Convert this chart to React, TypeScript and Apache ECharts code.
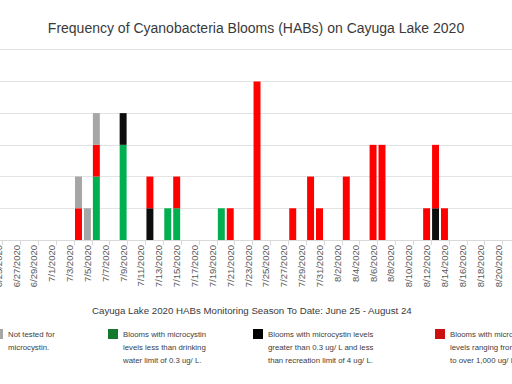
import React, { useEffect, useRef } from "react";
import * as echarts from "echarts";

// Daily categories June 25 - August 24, 2020
const monthSpans: [number, number, number][] = [
  [6, 25, 30],
  [7, 1, 31],
  [8, 1, 24],
];
const categories: string[] = [];
monthSpans.forEach(([m, a, b]) => {
  for (let d = a; d <= b; d++) categories.push(`${m}/${d}/2020`);
});

const greenDays = ["7/6/2020", "7/9/2020", "7/14/2020", "7/15/2020", "7/20/2020"];
const greenCounts = [2, 3, 1, 1, 1];

const blackDays = ["7/9/2020", "7/12/2020", "8/13/2020"];
const blackCounts = [1, 1, 1];

const redDays = [
  "7/4/2020", "7/6/2020", "7/12/2020", "7/15/2020", "7/21/2020", "7/24/2020",
  "7/28/2020", "7/30/2020", "7/31/2020", "8/3/2020", "8/6/2020", "8/7/2020",
  "8/12/2020", "8/13/2020", "8/14/2020",
];
const redCounts = [1, 1, 1, 1, 1, 5, 1, 2, 1, 2, 3, 3, 1, 2, 1];

const greyDays = ["7/4/2020", "7/5/2020", "7/6/2020"];
const greyCounts = [1, 1, 1];

const legendTexts = [
  "Not tested for\nmicrocystin.",
  "Blooms with microcystin\nlevels less than drinking\nwater limit of 0.3 ug/ L.",
  "Blooms with microcystin levels\ngreater than 0.3 ug/ L and less\nthan recreation limit of 4 ug/ L.",
  "Blooms with microcystin\nlevels ranging from 4 ug/ L\nto over 1,000 ug/ L.",
];

function build(days: string[], counts: number[]) {
  return categories.map((c) => {
    const i = days.indexOf(c);
    return i >= 0 ? counts[i] : 0;
  });
}

const FONT = "Liberation Sans, Arial, sans-serif";
const OFF = 40; // chart canvas extends 40px beyond each side of the visible frame

export default function App() {
  const ref = useRef<HTMLDivElement>(null);
  useEffect(() => {
    if (!ref.current) return;
    const chart = echarts.init(ref.current, undefined, { renderer: "svg" });
    const legendX = [-7, 108, 253, 435];
    const legendColors = ["#a6a6a6", "#13792c", "#000000", "#cc0f0f"];
    const graphics: any[] = [];
    legendTexts.forEach((t, i) => {
      graphics.push({
        type: "rect",
        shape: { x: legendX[i] + OFF, y: 329, width: 10, height: 10 },
        style: { fill: legendColors[i] },
      });
      graphics.push({
        type: "text",
        x: legendX[i] + OFF + 15,
        y: 327.5,
        style: {
          text: t,
          fontSize: 7.8,
          fontFamily: FONT,
          fill: "#404040",
          lineHeight: 13,
          verticalAlign: "top",
        },
      });
    });
    const mk = (name: string, data: number[], color: string) => ({
      name,
      type: "bar",
      stack: "blooms",
      data,
      barCategoryGap: "22%",
      itemStyle: { color },
      emphasis: { disabled: true },
    });
    chart.setOption({
      animation: false,
      backgroundColor: "#ffffff",
      title: [
        {
          text: "Frequency of Cyanobacteria Blooms (HABs) on Cayuga Lake 2020",
          left: "center",
          top: 16,
          textStyle: { fontSize: 14, fontWeight: "normal", color: "#3a3a3a", fontFamily: FONT },
        },
        {
          text: "Cayuga Lake 2020 HABs Monitoring Season To Date: June 25 - August 24",
          left: 87 + OFF,
          top: 300,
          textStyle: { fontSize: 9.7, fontWeight: "normal", color: "#3a3a3a", fontFamily: FONT },
        },
      ],
      grid: { left: -6.3 + OFF, width: 544.5, top: 49.7, bottom: 144, containLabel: false },
      xAxis: {
        type: "category",
        data: categories,
        axisLine: { lineStyle: { color: "#d9d9d9" } },
        axisTick: {
          show: true,
          length: 5,
          interval: (i: number) => i % 2 === 1,
          lineStyle: { color: "#d9d9d9" },
        },
        axisLabel: {
          interval: 1,
          rotate: 90,
          margin: 5,
          fontSize: 9.5,
          color: "#595959",
          fontFamily: FONT,
        },
      },
      yAxis: {
        type: "value",
        min: 0,
        max: 6,
        interval: 1,
        axisLabel: { show: false },
        axisLine: { show: false },
        axisTick: { show: false },
        splitLine: { lineStyle: { color: "#e3e3e3" } },
      },
      series: [
        mk("Blooms with microcystin levels less than drinking water limit of 0.3 ug/ L.", build(greenDays, greenCounts), "#00b050"),
        mk("Blooms with microcystin levels greater than 0.3 ug/ L and less than recreation limit of 4 ug/ L.", build(blackDays, blackCounts), "#0d0d0d"),
        mk("Blooms with microcystin levels ranging from 4 ug/ L to over 1,000 ug/ L.", build(redDays, redCounts), "#ff0000"),
        mk("Not tested for microcystin.", build(greyDays, greyCounts), "#a6a6a6"),
      ],
      graphic: graphics,
    });
    return () => chart.dispose();
  }, []);
  return (
    <div
      style={{
        position: "fixed",
        left: 0,
        top: 0,
        width: 512,
        height: 384,
        overflow: "hidden",
        background: "#fff",
      }}
    >
      <div
        ref={ref}
        style={{ position: "absolute", left: -OFF, top: 0, width: 512 + 2 * OFF, height: 384 }}
      />
    </div>
  );
}
